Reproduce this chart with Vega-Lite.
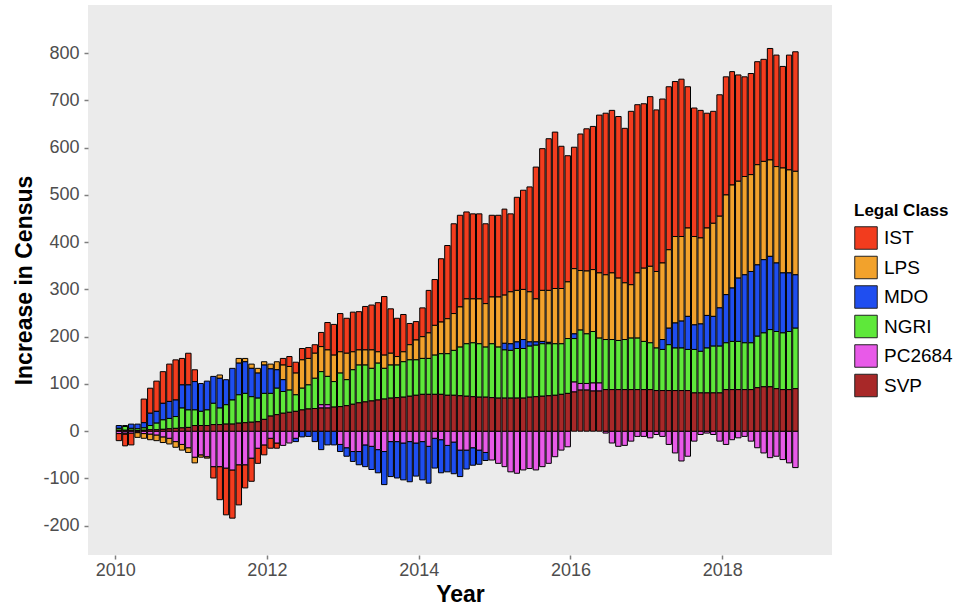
{
"$schema": "https://vega.github.io/schema/vega-lite/v6.json",
"width": 744, "height": 550,
"autosize": {"type": "none"},
"padding": {"left": 88, "top": 5, "right": 127, "bottom": 50},
"background": "white",
"config": {
 "font": "Liberation Sans",
 "view": {"fill": "#ebebeb", "stroke": null},
 "axis": {"grid": false, "domain": false, "labelFont": "Liberation Sans", "labelFontSize": 18, "labelColor": "#4d4d4d", "tickColor": "#7f7f7f", "tickSize": 4, "tickWidth": 1.5, "titleFont": "Liberation Sans", "titleFontSize": 23, "titleFontWeight": "bold", "titleColor": "black"}
},
"datasets": {"census": [
{"d":"2010-01","c":"IST","v":-15},{"d":"2010-01","c":"MDO","v":6},{"d":"2010-01","c":"NGRI","v":4},{"d":"2010-01","c":"PC2684","v":-5},{"d":"2010-01","c":"SVP","v":2},
{"d":"2010-02","c":"IST","v":-25},{"d":"2010-02","c":"LPS","v":-2},{"d":"2010-02","c":"MDO","v":2},{"d":"2010-02","c":"NGRI","v":8},{"d":"2010-02","c":"PC2684","v":-4},{"d":"2010-02","c":"SVP","v":2},
{"d":"2010-03","c":"IST","v":-25},{"d":"2010-03","c":"MDO","v":9},{"d":"2010-03","c":"NGRI","v":4},{"d":"2010-03","c":"PC2684","v":-4},{"d":"2010-03","c":"SVP","v":2},
{"d":"2010-04","c":"LPS","v":-10},{"d":"2010-04","c":"MDO","v":10},{"d":"2010-04","c":"NGRI","v":4},{"d":"2010-04","c":"PC2684","v":-3},{"d":"2010-04","c":"SVP","v":1},
{"d":"2010-05","c":"IST","v":50},{"d":"2010-05","c":"LPS","v":-10},{"d":"2010-05","c":"MDO","v":11},{"d":"2010-05","c":"NGRI","v":5},{"d":"2010-05","c":"PC2684","v":-5},{"d":"2010-05","c":"SVP","v":2},
{"d":"2010-06","c":"IST","v":53},{"d":"2010-06","c":"LPS","v":-12},{"d":"2010-06","c":"MDO","v":26},{"d":"2010-06","c":"NGRI","v":9},{"d":"2010-06","c":"PC2684","v":-6},{"d":"2010-06","c":"SVP","v":3},
{"d":"2010-07","c":"IST","v":64},{"d":"2010-07","c":"LPS","v":-12},{"d":"2010-07","c":"MDO","v":25},{"d":"2010-07","c":"NGRI","v":14},{"d":"2010-07","c":"PC2684","v":-8},{"d":"2010-07","c":"SVP","v":3},
{"d":"2010-08","c":"IST","v":67},{"d":"2010-08","c":"LPS","v":-12},{"d":"2010-08","c":"MDO","v":35},{"d":"2010-08","c":"NGRI","v":20},{"d":"2010-08","c":"PC2684","v":-12},{"d":"2010-08","c":"SVP","v":4},
{"d":"2010-09","c":"IST","v":79},{"d":"2010-09","c":"LPS","v":-12},{"d":"2010-09","c":"MDO","v":36},{"d":"2010-09","c":"NGRI","v":22},{"d":"2010-09","c":"PC2684","v":-15},{"d":"2010-09","c":"SVP","v":5},
{"d":"2010-10","c":"IST","v":85},{"d":"2010-10","c":"LPS","v":-12},{"d":"2010-10","c":"MDO","v":35},{"d":"2010-10","c":"NGRI","v":25},{"d":"2010-10","c":"PC2684","v":-22},{"d":"2010-10","c":"SVP","v":6},
{"d":"2010-11","c":"IST","v":56},{"d":"2010-11","c":"LPS","v":-12},{"d":"2010-11","c":"MDO","v":49},{"d":"2010-11","c":"NGRI","v":42},{"d":"2010-11","c":"PC2684","v":-28},{"d":"2010-11","c":"SVP","v":7},
{"d":"2010-12","c":"IST","v":67},{"d":"2010-12","c":"LPS","v":-10},{"d":"2010-12","c":"MDO","v":53},{"d":"2010-12","c":"NGRI","v":37},{"d":"2010-12","c":"PC2684","v":-35},{"d":"2010-12","c":"SVP","v":8},
{"d":"2011-01","c":"IST","v":25},{"d":"2011-01","c":"LPS","v":-12},{"d":"2011-01","c":"MDO","v":60},{"d":"2011-01","c":"NGRI","v":33},{"d":"2011-01","c":"PC2684","v":-55},{"d":"2011-01","c":"SVP","v":12},
{"d":"2011-02","c":"LPS","v":-5},{"d":"2011-02","c":"MDO","v":59},{"d":"2011-02","c":"NGRI","v":30},{"d":"2011-02","c":"PC2684","v":-50},{"d":"2011-02","c":"SVP","v":12},
{"d":"2011-03","c":"LPS","v":-3},{"d":"2011-03","c":"MDO","v":61},{"d":"2011-03","c":"NGRI","v":33},{"d":"2011-03","c":"PC2684","v":-54},{"d":"2011-03","c":"SVP","v":12},
{"d":"2011-04","c":"IST","v":-24},{"d":"2011-04","c":"MDO","v":57},{"d":"2011-04","c":"NGRI","v":45},{"d":"2011-04","c":"PC2684","v":-75},{"d":"2011-04","c":"SVP","v":14},
{"d":"2011-05","c":"IST","v":-70},{"d":"2011-05","c":"LPS","v":7},{"d":"2011-05","c":"MDO","v":63},{"d":"2011-05","c":"NGRI","v":35},{"d":"2011-05","c":"PC2684","v":-75},{"d":"2011-05","c":"SVP","v":14},
{"d":"2011-06","c":"IST","v":-99},{"d":"2011-06","c":"MDO","v":53},{"d":"2011-06","c":"NGRI","v":41},{"d":"2011-06","c":"PC2684","v":-78},{"d":"2011-06","c":"SVP","v":15},
{"d":"2011-07","c":"IST","v":-102},{"d":"2011-07","c":"MDO","v":67},{"d":"2011-07","c":"NGRI","v":51},{"d":"2011-07","c":"PC2684","v":-82},{"d":"2011-07","c":"SVP","v":15},
{"d":"2011-08","c":"IST","v":-85},{"d":"2011-08","c":"LPS","v":10},{"d":"2011-08","c":"MDO","v":67},{"d":"2011-08","c":"NGRI","v":60},{"d":"2011-08","c":"PC2684","v":-71},{"d":"2011-08","c":"SVP","v":17},
{"d":"2011-09","c":"IST","v":-49},{"d":"2011-09","c":"LPS","v":7},{"d":"2011-09","c":"MDO","v":67},{"d":"2011-09","c":"NGRI","v":62},{"d":"2011-09","c":"PC2684","v":-71},{"d":"2011-09","c":"SVP","v":18},
{"d":"2011-10","c":"IST","v":-49},{"d":"2011-10","c":"LPS","v":9},{"d":"2011-10","c":"MDO","v":60},{"d":"2011-10","c":"NGRI","v":54},{"d":"2011-10","c":"PC2684","v":-57},{"d":"2011-10","c":"SVP","v":19},
{"d":"2011-11","c":"IST","v":-32},{"d":"2011-11","c":"LPS","v":10},{"d":"2011-11","c":"MDO","v":53},{"d":"2011-11","c":"NGRI","v":50},{"d":"2011-11","c":"PC2684","v":-36},{"d":"2011-11","c":"SVP","v":20},
{"d":"2011-12","c":"IST","v":-21},{"d":"2011-12","c":"LPS","v":7},{"d":"2011-12","c":"MDO","v":60},{"d":"2011-12","c":"NGRI","v":55},{"d":"2011-12","c":"PC2684","v":-29},{"d":"2011-12","c":"SVP","v":25},
{"d":"2012-01","c":"IST","v":-21},{"d":"2012-01","c":"LPS","v":10},{"d":"2012-01","c":"MDO","v":52},{"d":"2012-01","c":"NGRI","v":48},{"d":"2012-01","c":"PC2684","v":-15},{"d":"2012-01","c":"SVP","v":32},
{"d":"2012-02","c":"IST","v":-11},{"d":"2012-02","c":"LPS","v":17},{"d":"2012-02","c":"MDO","v":39},{"d":"2012-02","c":"NGRI","v":56},{"d":"2012-02","c":"PC2684","v":-25},{"d":"2012-02","c":"SVP","v":35},
{"d":"2012-03","c":"IST","v":14},{"d":"2012-03","c":"LPS","v":31},{"d":"2012-03","c":"MDO","v":25},{"d":"2012-03","c":"NGRI","v":46},{"d":"2012-03","c":"PC2684","v":-30},{"d":"2012-03","c":"SVP","v":38},
{"d":"2012-04","c":"IST","v":21},{"d":"2012-04","c":"LPS","v":50},{"d":"2012-04","c":"NGRI","v":47},{"d":"2012-04","c":"PC2684","v":-25},{"d":"2012-04","c":"SVP","v":40},
{"d":"2012-05","c":"IST","v":23},{"d":"2012-05","c":"LPS","v":46},{"d":"2012-05","c":"MDO","v":-7},{"d":"2012-05","c":"NGRI","v":35},{"d":"2012-05","c":"PC2684","v":-15},{"d":"2012-05","c":"SVP","v":42},
{"d":"2012-06","c":"IST","v":24},{"d":"2012-06","c":"LPS","v":60},{"d":"2012-06","c":"MDO","v":-12},{"d":"2012-06","c":"NGRI","v":46},{"d":"2012-06","c":"SVP","v":45},
{"d":"2012-07","c":"IST","v":23},{"d":"2012-07","c":"LPS","v":56},{"d":"2012-07","c":"MDO","v":-11},{"d":"2012-07","c":"NGRI","v":51},{"d":"2012-07","c":"SVP","v":47},
{"d":"2012-08","c":"IST","v":18},{"d":"2012-08","c":"LPS","v":53},{"d":"2012-08","c":"MDO","v":-22},{"d":"2012-08","c":"NGRI","v":64},{"d":"2012-08","c":"SVP","v":48},
{"d":"2012-09","c":"IST","v":30},{"d":"2012-09","c":"LPS","v":53},{"d":"2012-09","c":"MDO","v":-39},{"d":"2012-09","c":"NGRI","v":70},{"d":"2012-09","c":"PC2684","v":7},{"d":"2012-09","c":"SVP","v":49},
{"d":"2012-10","c":"IST","v":58},{"d":"2012-10","c":"LPS","v":56},{"d":"2012-10","c":"MDO","v":-29},{"d":"2012-10","c":"NGRI","v":60},{"d":"2012-10","c":"PC2684","v":7},{"d":"2012-10","c":"SVP","v":49},
{"d":"2012-11","c":"IST","v":65},{"d":"2012-11","c":"LPS","v":56},{"d":"2012-11","c":"MDO","v":-29},{"d":"2012-11","c":"NGRI","v":54},{"d":"2012-11","c":"SVP","v":51},
{"d":"2012-12","c":"IST","v":81},{"d":"2012-12","c":"LPS","v":45},{"d":"2012-12","c":"MDO","v":-15},{"d":"2012-12","c":"NGRI","v":71},{"d":"2012-12","c":"PC2684","v":-28},{"d":"2012-12","c":"SVP","v":52},
{"d":"2013-01","c":"IST","v":74},{"d":"2013-01","c":"LPS","v":56},{"d":"2013-01","c":"MDO","v":-18},{"d":"2013-01","c":"NGRI","v":55},{"d":"2013-01","c":"PC2684","v":-35},{"d":"2013-01","c":"SVP","v":54},
{"d":"2013-02","c":"IST","v":84},{"d":"2013-02","c":"LPS","v":38},{"d":"2013-02","c":"MDO","v":-21},{"d":"2013-02","c":"NGRI","v":73},{"d":"2013-02","c":"PC2684","v":-43},{"d":"2013-02","c":"SVP","v":57},
{"d":"2013-03","c":"IST","v":81},{"d":"2013-03","c":"LPS","v":32},{"d":"2013-03","c":"MDO","v":-28},{"d":"2013-03","c":"NGRI","v":80},{"d":"2013-03","c":"PC2684","v":-43},{"d":"2013-03","c":"SVP","v":60},
{"d":"2013-04","c":"IST","v":92},{"d":"2013-04","c":"LPS","v":32},{"d":"2013-04","c":"MDO","v":-46},{"d":"2013-04","c":"NGRI","v":78},{"d":"2013-04","c":"PC2684","v":-29},{"d":"2013-04","c":"SVP","v":62},
{"d":"2013-05","c":"IST","v":95},{"d":"2013-05","c":"LPS","v":39},{"d":"2013-05","c":"MDO","v":-49},{"d":"2013-05","c":"NGRI","v":69},{"d":"2013-05","c":"PC2684","v":-32},{"d":"2013-05","c":"SVP","v":64},
{"d":"2013-06","c":"IST","v":104},{"d":"2013-06","c":"LPS","v":24},{"d":"2013-06","c":"MDO","v":-49},{"d":"2013-06","c":"NGRI","v":78},{"d":"2013-06","c":"PC2684","v":-39},{"d":"2013-06","c":"SVP","v":66},
{"d":"2013-07","c":"IST","v":124},{"d":"2013-07","c":"LPS","v":28},{"d":"2013-07","c":"MDO","v":-70},{"d":"2013-07","c":"NGRI","v":65},{"d":"2013-07","c":"PC2684","v":-43},{"d":"2013-07","c":"SVP","v":68},
{"d":"2013-08","c":"IST","v":94},{"d":"2013-08","c":"LPS","v":25},{"d":"2013-08","c":"MDO","v":-74},{"d":"2013-08","c":"NGRI","v":70},{"d":"2013-08","c":"PC2684","v":-22},{"d":"2013-08","c":"SVP","v":70},
{"d":"2013-09","c":"IST","v":81},{"d":"2013-09","c":"LPS","v":18},{"d":"2013-09","c":"MDO","v":-77},{"d":"2013-09","c":"NGRI","v":69},{"d":"2013-09","c":"PC2684","v":-22},{"d":"2013-09","c":"SVP","v":71},
{"d":"2013-10","c":"IST","v":79},{"d":"2013-10","c":"LPS","v":21},{"d":"2013-10","c":"MDO","v":-78},{"d":"2013-10","c":"NGRI","v":75},{"d":"2013-10","c":"PC2684","v":-25},{"d":"2013-10","c":"SVP","v":72},
{"d":"2013-11","c":"IST","v":45},{"d":"2013-11","c":"LPS","v":32},{"d":"2013-11","c":"MDO","v":-85},{"d":"2013-11","c":"NGRI","v":77},{"d":"2013-11","c":"PC2684","v":-22},{"d":"2013-11","c":"SVP","v":74},
{"d":"2013-12","c":"IST","v":39},{"d":"2013-12","c":"LPS","v":42},{"d":"2013-12","c":"MDO","v":-70},{"d":"2013-12","c":"NGRI","v":75},{"d":"2013-12","c":"PC2684","v":-25},{"d":"2013-12","c":"SVP","v":76},
{"d":"2014-01","c":"IST","v":61},{"d":"2014-01","c":"LPS","v":46},{"d":"2014-01","c":"MDO","v":-81},{"d":"2014-01","c":"NGRI","v":76},{"d":"2014-01","c":"PC2684","v":-22},{"d":"2014-01","c":"SVP","v":78},
{"d":"2014-02","c":"IST","v":90},{"d":"2014-02","c":"LPS","v":54},{"d":"2014-02","c":"MDO","v":-78},{"d":"2014-02","c":"NGRI","v":76},{"d":"2014-02","c":"PC2684","v":-32},{"d":"2014-02","c":"SVP","v":78},
{"d":"2014-03","c":"IST","v":97},{"d":"2014-03","c":"LPS","v":63},{"d":"2014-03","c":"MDO","v":-63},{"d":"2014-03","c":"NGRI","v":83},{"d":"2014-03","c":"PC2684","v":-15},{"d":"2014-03","c":"SVP","v":78},
{"d":"2014-04","c":"IST","v":134},{"d":"2014-04","c":"LPS","v":67},{"d":"2014-04","c":"MDO","v":-70},{"d":"2014-04","c":"NGRI","v":86},{"d":"2014-04","c":"PC2684","v":-18},{"d":"2014-04","c":"SVP","v":78},
{"d":"2014-05","c":"IST","v":155},{"d":"2014-05","c":"LPS","v":74},{"d":"2014-05","c":"MDO","v":-56},{"d":"2014-05","c":"NGRI","v":88},{"d":"2014-05","c":"PC2684","v":-30},{"d":"2014-05","c":"SVP","v":76},
{"d":"2014-06","c":"IST","v":190},{"d":"2014-06","c":"LPS","v":78},{"d":"2014-06","c":"MDO","v":-67},{"d":"2014-06","c":"NGRI","v":95},{"d":"2014-06","c":"PC2684","v":-23},{"d":"2014-06","c":"SVP","v":76},
{"d":"2014-07","c":"IST","v":194},{"d":"2014-07","c":"LPS","v":85},{"d":"2014-07","c":"MDO","v":-56},{"d":"2014-07","c":"NGRI","v":103},{"d":"2014-07","c":"PC2684","v":-40},{"d":"2014-07","c":"SVP","v":75},
{"d":"2014-08","c":"IST","v":184},{"d":"2014-08","c":"LPS","v":95},{"d":"2014-08","c":"MDO","v":-40},{"d":"2014-08","c":"NGRI","v":111},{"d":"2014-08","c":"PC2684","v":-40},{"d":"2014-08","c":"SVP","v":74},
{"d":"2014-09","c":"IST","v":180},{"d":"2014-09","c":"LPS","v":93},{"d":"2014-09","c":"MDO","v":-37},{"d":"2014-09","c":"NGRI","v":114},{"d":"2014-09","c":"PC2684","v":-35},{"d":"2014-09","c":"SVP","v":73},
{"d":"2014-10","c":"IST","v":180},{"d":"2014-10","c":"LPS","v":95},{"d":"2014-10","c":"MDO","v":-30},{"d":"2014-10","c":"NGRI","v":113},{"d":"2014-10","c":"PC2684","v":-40},{"d":"2014-10","c":"SVP","v":72},
{"d":"2014-11","c":"IST","v":169},{"d":"2014-11","c":"LPS","v":92},{"d":"2014-11","c":"MDO","v":-17},{"d":"2014-11","c":"NGRI","v":106},{"d":"2014-11","c":"PC2684","v":-45},{"d":"2014-11","c":"SVP","v":72},
{"d":"2014-12","c":"IST","v":173},{"d":"2014-12","c":"LPS","v":99},{"d":"2014-12","c":"NGRI","v":114},{"d":"2014-12","c":"PC2684","v":-61},{"d":"2014-12","c":"SVP","v":71},
{"d":"2015-01","c":"IST","v":173},{"d":"2015-01","c":"LPS","v":106},{"d":"2015-01","c":"NGRI","v":108},{"d":"2015-01","c":"PC2684","v":-68},{"d":"2015-01","c":"SVP","v":70},
{"d":"2015-02","c":"IST","v":182},{"d":"2015-02","c":"LPS","v":102},{"d":"2015-02","c":"MDO","v":14},{"d":"2015-02","c":"NGRI","v":102},{"d":"2015-02","c":"PC2684","v":-75},{"d":"2015-02","c":"SVP","v":70},
{"d":"2015-03","c":"IST","v":165},{"d":"2015-03","c":"LPS","v":110},{"d":"2015-03","c":"MDO","v":14},{"d":"2015-03","c":"NGRI","v":101},{"d":"2015-03","c":"PC2684","v":-86},{"d":"2015-03","c":"SVP","v":70},
{"d":"2015-04","c":"IST","v":197},{"d":"2015-04","c":"LPS","v":109},{"d":"2015-04","c":"MDO","v":14},{"d":"2015-04","c":"NGRI","v":105},{"d":"2015-04","c":"PC2684","v":-89},{"d":"2015-04","c":"SVP","v":70},
{"d":"2015-05","c":"IST","v":210},{"d":"2015-05","c":"LPS","v":106},{"d":"2015-05","c":"MDO","v":19},{"d":"2015-05","c":"NGRI","v":105},{"d":"2015-05","c":"PC2684","v":-82},{"d":"2015-05","c":"SVP","v":70},
{"d":"2015-06","c":"IST","v":222},{"d":"2015-06","c":"LPS","v":106},{"d":"2015-06","c":"MDO","v":9},{"d":"2015-06","c":"NGRI","v":108},{"d":"2015-06","c":"PC2684","v":-79},{"d":"2015-06","c":"SVP","v":72},
{"d":"2015-07","c":"IST","v":279},{"d":"2015-07","c":"LPS","v":91},{"d":"2015-07","c":"MDO","v":7},{"d":"2015-07","c":"NGRI","v":109},{"d":"2015-07","c":"PC2684","v":-82},{"d":"2015-07","c":"SVP","v":73},
{"d":"2015-08","c":"IST","v":300},{"d":"2015-08","c":"LPS","v":108},{"d":"2015-08","c":"MDO","v":5},{"d":"2015-08","c":"NGRI","v":111},{"d":"2015-08","c":"PC2684","v":-75},{"d":"2015-08","c":"SVP","v":74},
{"d":"2015-09","c":"IST","v":321},{"d":"2015-09","c":"LPS","v":110},{"d":"2015-09","c":"MDO","v":3},{"d":"2015-09","c":"NGRI","v":110},{"d":"2015-09","c":"PC2684","v":-68},{"d":"2015-09","c":"SVP","v":75},
{"d":"2015-10","c":"IST","v":331},{"d":"2015-10","c":"LPS","v":117},{"d":"2015-10","c":"NGRI","v":109},{"d":"2015-10","c":"PC2684","v":-54},{"d":"2015-10","c":"SVP","v":76},
{"d":"2015-11","c":"IST","v":301},{"d":"2015-11","c":"LPS","v":117},{"d":"2015-11","c":"NGRI","v":107},{"d":"2015-11","c":"PC2684","v":-40},{"d":"2015-11","c":"SVP","v":78},
{"d":"2015-12","c":"IST","v":267},{"d":"2015-12","c":"LPS","v":120},{"d":"2015-12","c":"NGRI","v":116},{"d":"2015-12","c":"PC2684","v":-33},{"d":"2015-12","c":"SVP","v":80},
{"d":"2016-01","c":"IST","v":257},{"d":"2016-01","c":"LPS","v":138},{"d":"2016-01","c":"MDO","v":10},{"d":"2016-01","c":"NGRI","v":92},{"d":"2016-01","c":"PC2684","v":21},{"d":"2016-01","c":"SVP","v":83},
{"d":"2016-02","c":"IST","v":289},{"d":"2016-02","c":"LPS","v":126},{"d":"2016-02","c":"NGRI","v":113},{"d":"2016-02","c":"PC2684","v":14},{"d":"2016-02","c":"SVP","v":87},
{"d":"2016-03","c":"IST","v":301},{"d":"2016-03","c":"LPS","v":133},{"d":"2016-03","c":"NGRI","v":105},{"d":"2016-03","c":"PC2684","v":14},{"d":"2016-03","c":"SVP","v":87},
{"d":"2016-04","c":"IST","v":303},{"d":"2016-04","c":"LPS","v":131},{"d":"2016-04","c":"NGRI","v":109},{"d":"2016-04","c":"PC2684","v":17},{"d":"2016-04","c":"SVP","v":85},
{"d":"2016-05","c":"IST","v":334},{"d":"2016-05","c":"LPS","v":138},{"d":"2016-05","c":"NGRI","v":95},{"d":"2016-05","c":"PC2684","v":17},{"d":"2016-05","c":"SVP","v":85},
{"d":"2016-06","c":"IST","v":342},{"d":"2016-06","c":"LPS","v":137},{"d":"2016-06","c":"NGRI","v":106},{"d":"2016-06","c":"PC2684","v":-4},{"d":"2016-06","c":"SVP","v":88},
{"d":"2016-07","c":"IST","v":344},{"d":"2016-07","c":"LPS","v":141},{"d":"2016-07","c":"NGRI","v":106},{"d":"2016-07","c":"PC2684","v":-25},{"d":"2016-07","c":"SVP","v":88},
{"d":"2016-08","c":"IST","v":342},{"d":"2016-08","c":"LPS","v":132},{"d":"2016-08","c":"NGRI","v":104},{"d":"2016-08","c":"PC2684","v":-32},{"d":"2016-08","c":"SVP","v":88},
{"d":"2016-09","c":"IST","v":327},{"d":"2016-09","c":"LPS","v":120},{"d":"2016-09","c":"NGRI","v":106},{"d":"2016-09","c":"PC2684","v":-30},{"d":"2016-09","c":"SVP","v":88},
{"d":"2016-10","c":"IST","v":367},{"d":"2016-10","c":"LPS","v":113},{"d":"2016-10","c":"NGRI","v":109},{"d":"2016-10","c":"PC2684","v":-21},{"d":"2016-10","c":"SVP","v":88},
{"d":"2016-11","c":"IST","v":356},{"d":"2016-11","c":"LPS","v":138},{"d":"2016-11","c":"NGRI","v":109},{"d":"2016-11","c":"PC2684","v":-11},{"d":"2016-11","c":"SVP","v":88},
{"d":"2016-12","c":"IST","v":348},{"d":"2016-12","c":"LPS","v":155},{"d":"2016-12","c":"NGRI","v":102},{"d":"2016-12","c":"PC2684","v":-11},{"d":"2016-12","c":"SVP","v":88},
{"d":"2017-01","c":"IST","v":359},{"d":"2017-01","c":"LPS","v":162},{"d":"2017-01","c":"NGRI","v":99},{"d":"2017-01","c":"PC2684","v":-14},{"d":"2017-01","c":"SVP","v":88},
{"d":"2017-02","c":"IST","v":342},{"d":"2017-02","c":"LPS","v":162},{"d":"2017-02","c":"NGRI","v":90},{"d":"2017-02","c":"PC2684","v":-7},{"d":"2017-02","c":"SVP","v":86},
{"d":"2017-03","c":"IST","v":347},{"d":"2017-03","c":"LPS","v":162},{"d":"2017-03","c":"MDO","v":21},{"d":"2017-03","c":"NGRI","v":87},{"d":"2017-03","c":"PC2684","v":-11},{"d":"2017-03","c":"SVP","v":86},
{"d":"2017-04","c":"IST","v":345},{"d":"2017-04","c":"LPS","v":166},{"d":"2017-04","c":"MDO","v":35},{"d":"2017-04","c":"NGRI","v":97},{"d":"2017-04","c":"PC2684","v":-28},{"d":"2017-04","c":"SVP","v":86},
{"d":"2017-05","c":"IST","v":328},{"d":"2017-05","c":"LPS","v":183},{"d":"2017-05","c":"MDO","v":53},{"d":"2017-05","c":"NGRI","v":90},{"d":"2017-05","c":"PC2684","v":-46},{"d":"2017-05","c":"SVP","v":86},
{"d":"2017-06","c":"IST","v":333},{"d":"2017-06","c":"LPS","v":179},{"d":"2017-06","c":"MDO","v":57},{"d":"2017-06","c":"NGRI","v":90},{"d":"2017-06","c":"PC2684","v":-63},{"d":"2017-06","c":"SVP","v":86},
{"d":"2017-07","c":"IST","v":299},{"d":"2017-07","c":"LPS","v":187},{"d":"2017-07","c":"MDO","v":70},{"d":"2017-07","c":"NGRI","v":87},{"d":"2017-07","c":"PC2684","v":-53},{"d":"2017-07","c":"SVP","v":86},
{"d":"2017-08","c":"IST","v":272},{"d":"2017-08","c":"LPS","v":187},{"d":"2017-08","c":"MDO","v":52},{"d":"2017-08","c":"NGRI","v":92},{"d":"2017-08","c":"PC2684","v":-21},{"d":"2017-08","c":"SVP","v":81},
{"d":"2017-09","c":"IST","v":270},{"d":"2017-09","c":"LPS","v":182},{"d":"2017-09","c":"MDO","v":58},{"d":"2017-09","c":"NGRI","v":88},{"d":"2017-09","c":"PC2684","v":-7},{"d":"2017-09","c":"SVP","v":81},
{"d":"2017-10","c":"IST","v":243},{"d":"2017-10","c":"LPS","v":185},{"d":"2017-10","c":"MDO","v":69},{"d":"2017-10","c":"NGRI","v":95},{"d":"2017-10","c":"PC2684","v":-4},{"d":"2017-10","c":"SVP","v":81},
{"d":"2017-11","c":"IST","v":237},{"d":"2017-11","c":"LPS","v":197},{"d":"2017-11","c":"MDO","v":63},{"d":"2017-11","c":"NGRI","v":99},{"d":"2017-11","c":"PC2684","v":-7},{"d":"2017-11","c":"SVP","v":81},
{"d":"2017-12","c":"IST","v":257},{"d":"2017-12","c":"LPS","v":194},{"d":"2017-12","c":"MDO","v":81},{"d":"2017-12","c":"NGRI","v":99},{"d":"2017-12","c":"PC2684","v":-21},{"d":"2017-12","c":"SVP","v":81},
{"d":"2018-01","c":"IST","v":250},{"d":"2018-01","c":"LPS","v":211},{"d":"2018-01","c":"MDO","v":102},{"d":"2018-01","c":"NGRI","v":99},{"d":"2018-01","c":"PC2684","v":-28},{"d":"2018-01","c":"SVP","v":88},
{"d":"2018-02","c":"IST","v":240},{"d":"2018-02","c":"LPS","v":218},{"d":"2018-02","c":"MDO","v":113},{"d":"2018-02","c":"NGRI","v":102},{"d":"2018-02","c":"PC2684","v":-18},{"d":"2018-02","c":"SVP","v":88},
{"d":"2018-03","c":"IST","v":225},{"d":"2018-03","c":"LPS","v":205},{"d":"2018-03","c":"MDO","v":134},{"d":"2018-03","c":"NGRI","v":102},{"d":"2018-03","c":"PC2684","v":-14},{"d":"2018-03","c":"SVP","v":88},
{"d":"2018-04","c":"IST","v":211},{"d":"2018-04","c":"LPS","v":208},{"d":"2018-04","c":"MDO","v":144},{"d":"2018-04","c":"NGRI","v":99},{"d":"2018-04","c":"PC2684","v":-11},{"d":"2018-04","c":"SVP","v":88},
{"d":"2018-05","c":"IST","v":214},{"d":"2018-05","c":"LPS","v":205},{"d":"2018-05","c":"MDO","v":151},{"d":"2018-05","c":"NGRI","v":99},{"d":"2018-05","c":"PC2684","v":-21},{"d":"2018-05","c":"SVP","v":88},
{"d":"2018-06","c":"IST","v":218},{"d":"2018-06","c":"LPS","v":212},{"d":"2018-06","c":"MDO","v":151},{"d":"2018-06","c":"NGRI","v":109},{"d":"2018-06","c":"PC2684","v":-35},{"d":"2018-06","c":"SVP","v":92},
{"d":"2018-07","c":"IST","v":216},{"d":"2018-07","c":"LPS","v":208},{"d":"2018-07","c":"MDO","v":155},{"d":"2018-07","c":"NGRI","v":114},{"d":"2018-07","c":"PC2684","v":-46},{"d":"2018-07","c":"SVP","v":94},
{"d":"2018-08","c":"IST","v":236},{"d":"2018-08","c":"LPS","v":204},{"d":"2018-08","c":"MDO","v":155},{"d":"2018-08","c":"NGRI","v":121},{"d":"2018-08","c":"PC2684","v":-56},{"d":"2018-08","c":"SVP","v":94},
{"d":"2018-09","c":"IST","v":236},{"d":"2018-09","c":"LPS","v":204},{"d":"2018-09","c":"MDO","v":145},{"d":"2018-09","c":"NGRI","v":121},{"d":"2018-09","c":"PC2684","v":-53},{"d":"2018-09","c":"SVP","v":90},
{"d":"2018-10","c":"IST","v":215},{"d":"2018-10","c":"LPS","v":222},{"d":"2018-10","c":"MDO","v":127},{"d":"2018-10","c":"NGRI","v":120},{"d":"2018-10","c":"PC2684","v":-60},{"d":"2018-10","c":"SVP","v":88},
{"d":"2018-11","c":"IST","v":243},{"d":"2018-11","c":"LPS","v":218},{"d":"2018-11","c":"MDO","v":124},{"d":"2018-11","c":"NGRI","v":123},{"d":"2018-11","c":"PC2684","v":-67},{"d":"2018-11","c":"SVP","v":88},
{"d":"2018-12","c":"IST","v":253},{"d":"2018-12","c":"LPS","v":219},{"d":"2018-12","c":"MDO","v":113},{"d":"2018-12","c":"NGRI","v":128},{"d":"2018-12","c":"PC2684","v":-77},{"d":"2018-12","c":"SVP","v":90}
]},
"data": {"name": "census"},
"mark": {"type": "bar", "stroke": "black", "strokeWidth": 1, "timeUnitBandSize": 0.9},
"encoding": {
 "x": {"field": "d", "type": "temporal", "timeUnit": "utcyearmonth", "title": "Year",
  "scale": {"type": "utc", "domain": [1250985600000, 1560384000000]},
  "axis": {"values": [1262304000000, 1325376000000, 1388534400000, 1451606400000, 1514764800000], "format": "%Y", "labelPadding": 2, "titlePadding": 4, "labelFlush": false}},
 "y": {"field": "v", "type": "quantitative", "stack": "zero", "title": "Increase in Census",
  "scale": {"domain": [-262, 902], "nice": false, "zero": false},
  "axis": {"values": [-200, -100, 0, 100, 200, 300, 400, 500, 600, 700, 800], "labelExpr": "replace(datum.label, '\u2212', '-')", "labelPadding": 5, "titlePadding": 6}},
 "color": {"field": "c", "type": "nominal", "title": "Legal Class",
  "scale": {"domain": ["IST", "LPS", "MDO", "NGRI", "PC2684", "SVP"], "range": ["#f23c1e", "#f2a22c", "#1f4ef0", "#5ee83a", "#e85ae8", "#a82828"]},
  "legend": {"orient": "none", "legendX": 766, "legendY": 198, "padding": 0, "symbolType": "square", "symbolSize": 506, "symbolStrokeColor": "#222222", "symbolStrokeWidth": 1, "symbolOpacity": 1, "rowPadding": 1.5, "labelFont": "Liberation Sans", "labelFontSize": 19, "labelColor": "black", "labelOffset": 6, "titleFont": "Liberation Sans", "titleFontSize": 17, "titleFontWeight": "bold", "titleColor": "black", "titlePadding": 6}},
 "order": {"field": "c", "sort": "descending"}
}
}
